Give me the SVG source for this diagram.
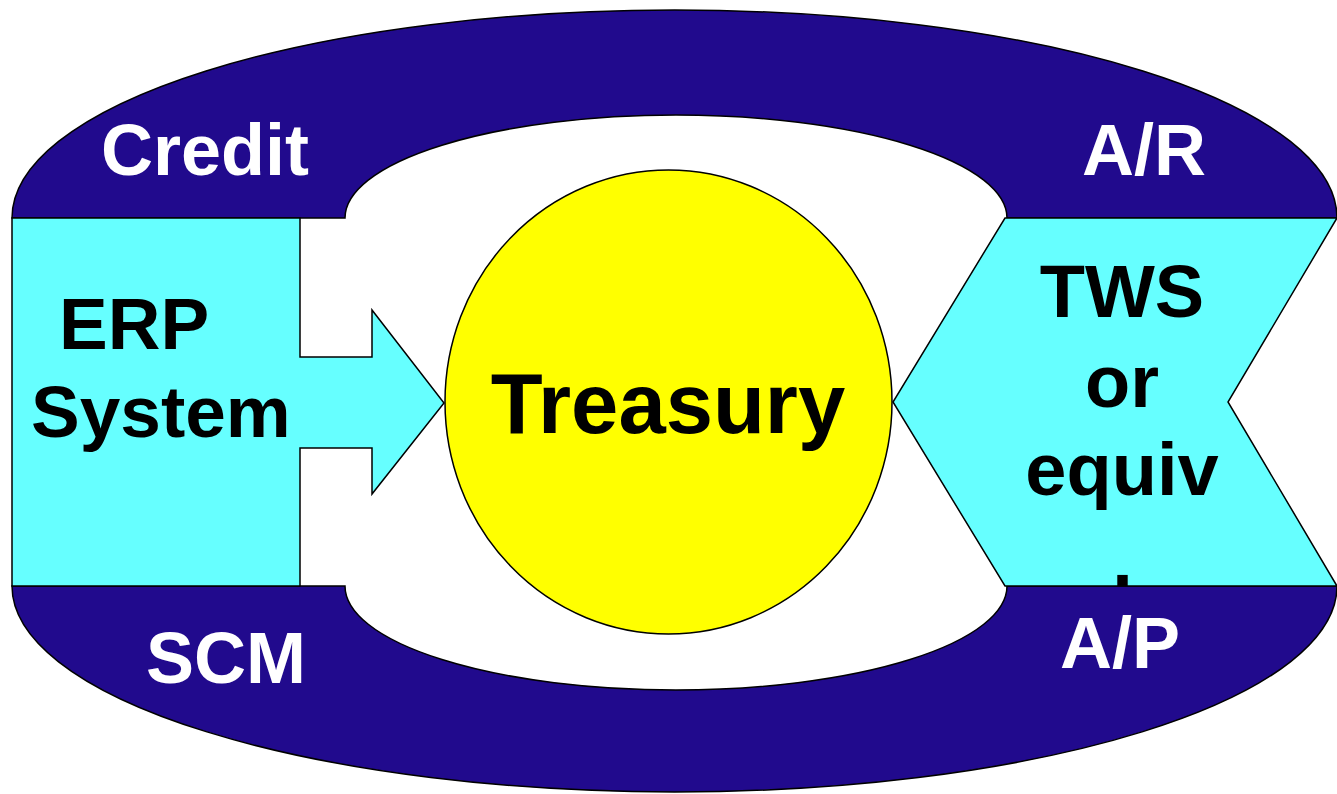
<svg xmlns="http://www.w3.org/2000/svg" width="1337" height="794" viewBox="0 0 1337 794">
<style>
.band{fill:#210A8D;stroke:#000;stroke-width:1.5}
.cyan{fill:#66FFFF;stroke:#000;stroke-width:1.5}
.sun{fill:#FFFF00;stroke:#000;stroke-width:1.5}
.w{font-family:"Liberation Sans",Arial,sans-serif;font-weight:bold;fill:#fff;font-size:72px;text-anchor:middle}
.b{font-family:"Liberation Sans",Arial,sans-serif;font-weight:bold;fill:#000;font-size:74px}
.big{font-size:85px;text-anchor:middle}
.erp{font-size:73px}
</style>
<rect width="1337" height="794" fill="#fff"/>
<g id="top-band">
<path class="band" d="M12,218 A662.5,208 0 0 1 1337,218 L1007,218 A331,103 0 0 0 345,218 Z"/>
<text class="w" x="205" y="175">Credit</text>
<text class="w" x="1144" y="175">A/R</text>
</g>
<g id="bottom-band">
<path class="band" d="M12,586 L345,586 A331,104 0 0 0 1007,586 L1337,586 A662.5,206 0 0 1 12,586 Z"/>
<text class="w" x="226" y="683">SCM</text>
<text class="w" x="1120" y="668">A/P</text>
</g>
<g id="treasury">
<ellipse class="sun" cx="668.5" cy="402" rx="223.5" ry="232"/>
<text class="b big" x="668" y="433">Treasury</text>
</g>
<g id="erp">
<path class="cyan" d="M12,218 L300,218 L300,357 L372,357 L372,310 L444,403 L372,494 L372,448 L300,448 L300,586 L12,586 Z"/>
<text class="b erp" x="59" y="349">ERP</text>
<text class="b erp" x="31" y="437">System</text>
</g>
<g id="tws">
<path class="cyan" d="M1005,218 L1337,218 L1228,402 L1337,586 L1005,586 L893,402 Z"/>
<text class="b" x="1122" y="317" text-anchor="middle">TWS</text>
<text class="b" x="1122" y="407" text-anchor="middle">or</text>
<text class="b" x="1122" y="495" text-anchor="middle">equiv</text>
<text class="b" x="1122.5" y="586" text-anchor="middle">.</text>
</g>
<g id="connectors"></g>
</svg>
